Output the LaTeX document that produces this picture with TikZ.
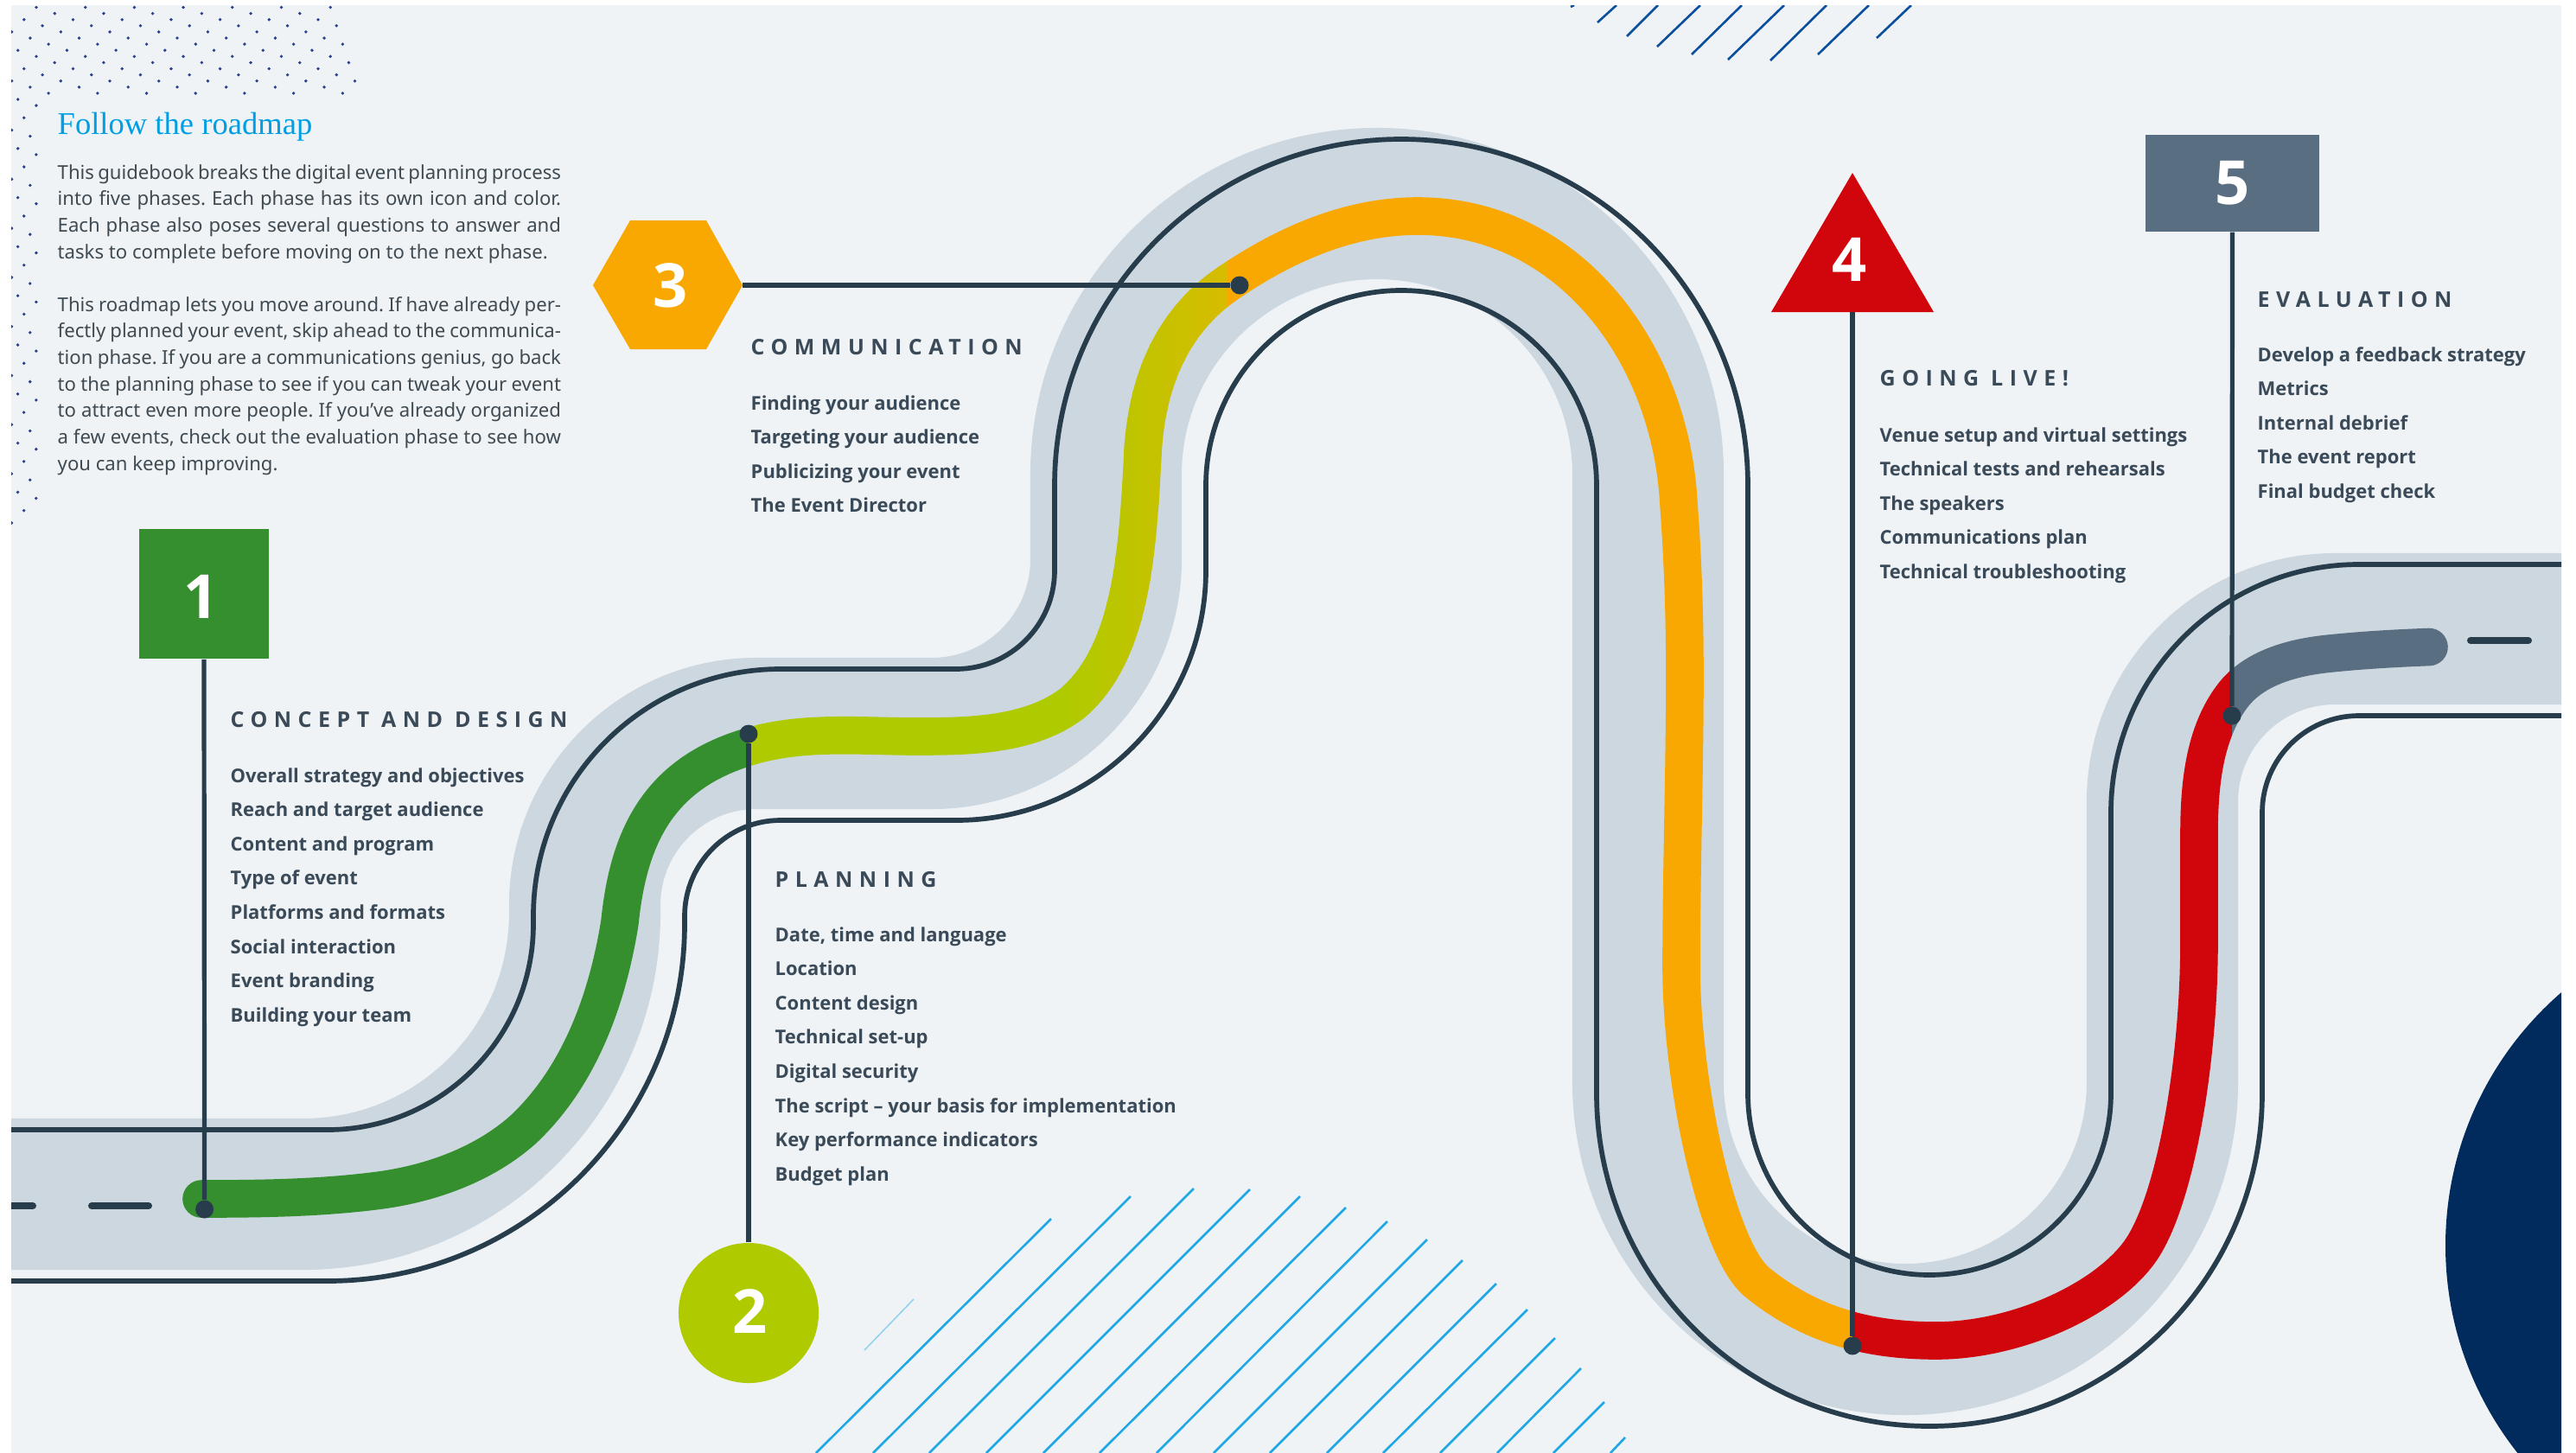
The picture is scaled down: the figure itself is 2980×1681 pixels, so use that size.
\documentclass[tikz,border=0pt]{standalone}
\usepackage{fontspec}
\setmainfont{Noto Sans}
\newfontfamily\boldfam{Open Sans}
\newfontfamily\headfont{Open Sans}[LetterSpace=30]
\newfontfamily\titlefont{Liberation Serif}
\definecolor{pagebg}{HTML}{EFF3F6}
\definecolor{roadband}{HTML}{CDD7E0}
\definecolor{ink}{HTML}{273D4C}
\definecolor{txt}{HTML}{3A4A58}
\definecolor{bodytxt}{HTML}{3F4A52}
\definecolor{cgreen}{HTML}{358F2E}
\definecolor{clime}{HTML}{B0CA00}
\definecolor{cgold}{HTML}{D8BC00}
\definecolor{corange}{HTML}{F8A800}
\definecolor{cred}{HTML}{D0060C}
\definecolor{cslate}{HTML}{5A6E81}
\definecolor{cnavy}{HTML}{002B5C}
\definecolor{hatchA}{HTML}{1EA7E4}
\definecolor{hatchB}{HTML}{0A4F9E}
\definecolor{dotc}{HTML}{2A3F8F}
\definecolor{titleblue}{HTML}{009FE3}
\newcommand\RouteDraw[1]{\draw[routeline,#1] (233,1387)
 .. controls (302,1387) and (372,1386) .. (440,1377)
 .. controls (499,1369) and (560,1347) .. (605,1307)
 .. controls (668,1248) and (702,1161) .. (717,1067)
 .. controls (727,968) and (762,895) .. (866,864)
 .. controls (928,845) and (995,852) .. (1060,852)
 .. controls (1121,852) and (1191,851) .. (1240,814)
 .. controls (1310,755) and (1316,635) .. (1322,525)
 .. controls (1326,445) and (1354,373) .. (1420,328)
 .. controls (1486,283) and (1560,250) .. (1640,250)
 .. controls (1815,250) and (1933,408) .. (1942,583)
 .. controls (1947,650) and (1949,715) .. (1949,782)
 .. controls (1949,890) and (1945,1010) .. (1945,1118)
 .. controls (1945,1250) and (1985,1440) .. (2031,1482)
 .. controls (2095,1535) and (2165,1551) .. (2240,1551)
 .. controls (2330,1551) and (2432,1506) .. (2474,1450)
 .. controls (2516,1394) and (2544,1230) .. (2544,1090)
 -- (2544,966)
 .. controls (2544,911) and (2549,850) .. (2582,806)
 .. controls (2607,772) and (2654,760) .. (2696,756)
 .. controls (2735,752) and (2772,750) .. (2810,748.5);}
\newcommand\RouteBand[3]{\begin{scope}\clip (#1,0) rectangle (#2,1681);\RouteDraw{#3}\end{scope}}
\newcommand\JLine[1]{\hbox to 5.82cm{\frenchspacing\spaceskip=.26em plus 1fil minus .2em\relax #1}}
\tikzset{
  routeline/.style={line width=.436cm,line cap=round},
  outline/.style={draw=ink,line width=.057cm},
  pointer/.style={draw=ink,line width=.052cm},
  dotnode/.style={circle,fill=ink,inner sep=0pt,minimum size=.21cm},
  signnum/.style={text=white,font=\boldfam\fontsize{20pt}{20pt}\selectfont\bfseries,inner sep=0pt},
  heading/.style={text=txt,anchor=base west,inner sep=0pt,font=\headfont\fontsize{7.1pt}{9pt}\selectfont\bfseries},
  item/.style={text=txt,anchor=base west,inner sep=0pt,font=\boldfam\fontsize{6.25pt}{9pt}\selectfont\bfseries},
  bodyline/.style={text=bodytxt,anchor=base west,inner sep=0pt,font=\fontsize{6.3pt}{9pt}\selectfont},
  dashmark/.style={draw=ink,line width=.08cm,line cap=round},
  hatchlow/.style={draw=hatchA,line width=.026cm},
  hatchtop/.style={draw=hatchB,line width=.026cm},
}
\begin{document}
\begin{tikzpicture}[x=.01cm,y=.01cm,yscale=-1]
\useasboundingbox (0,0) rectangle (2980,1681);
\fill[white] (0,0) rectangle (2980,1681);
\begin{scope}
\clip (13,6) rectangle (2963,1681);
\fill[pagebg] (13,6) rectangle (2963,1681);
% dot pattern
\foreach \i in {0,...,84}{
  \pgfmathsetmacro\rowy{8.5+7.1*\i}
  \pgfmathsetmacro\rowx{mod(42+21.26*\i,56.7)}
  \pgfmathsetmacro\lim{\i<=14 ? 398+1.1*\i : 44}
  \foreach \k in {0,...,7}{
    \pgfmathsetmacro\dx{\rowx+56.7*\k}
    \pgfmathtruncatemacro\ok{\dx<\lim ? 1 : 0}
    \ifnum\ok=1 \fill[dotc] (\dx,\rowy) circle (1.9);\fi
  }
}
% top hatch
\foreach \ax/\ay/\bx/\by in {1817/8/1821/6,1848/26/1870/6,1882/42/1918/6,1917/54/1967/6,1957/63/2015/6,1999/69/2064/6,2048/70/2113/6,2103/63/2162/6,2171/44/2211/6}
  \draw[hatchtop] (\ax,\ay) -- (\bx,\by);
% bottom hatch
\foreach \bx/\tx/\ty in {944/1216/1410,1010/1308/1384,1075/1381/1375,1141/1446/1376,1207/1504/1384,1272/1557/1397,1338/1605/1413,1404/1651/1434,1469/1692/1458,1535/1731/1485,1600/1767/1515,1666/1799/1548,1732/1829/1583,1797/1856/1622,1863/1880/1663}
  \draw[hatchlow] (\bx,1681) -- (\tx,\ty);
\draw[hatchlow,opacity=.45,line width=.015cm] (1000,1562) -- (1057,1503);
% navy circle
\fill[cnavy] (3216,1441) circle (387);
% road band
\begin{scope}[shift={(-28,-13)}]
\draw[roadband,line width=1.75cm] (-20,1394.5) -- (379,1394.5) arc (90:0:325.5) -- (704.5,1060) arc (180:270:198.5) -- (1106,861.5) arc (90:0:201.5) -- (1307.5,562) arc (180:360:313.5) -- (1934.5,1265) arc (180:0:297.5) -- (2529.5,940) arc (180:270:199.5) -- (3050,740.5);
\end{scope}
% outlines
\draw[outline] (-20,1307) -- (379,1307) arc (90:0:238) -- (617,1060) arc (180:270:286) -- (1106,774) arc (90:0:114) -- (1220,562) arc (180:360:401) -- (2022,1265) arc (180:0:210) -- (2442,940) arc (180:270:287) -- (3050,653);
\draw[outline] (-20,1482) -- (379,1482) arc (90:0:413) -- (792,1060) arc (180:270:111) -- (1106,949) arc (90:0:289) -- (1395,562) arc (180:360:226) -- (1847,1265) arc (180:0:385) -- (2617,940) arc (180:270:112) -- (3050,828);
% dashes
\draw[dashmark] (5,1395) -- (38,1395);
\draw[dashmark] (106,1395) -- (172,1395);
\draw[dashmark] (2858,741) -- (2925,741);
% route
\RouteBand{0}{866}{cgreen}
\RouteBand{866}{1231}{clime}
\foreach \xs in {1230,1240,...,1410}{
  \pgfmathtruncatemacro\pc{(\xs-1230)/190*100}
  \pgfmathsetmacro\xe{\xs+11}
  \RouteBand{\xs}{\xe}{cgold!\pc!clime}
}
\RouteBand{1420}{2143}{corange}
\RouteBand{2143}{2582}{cred}
\RouteBand{2582}{3000}{cslate}
\end{scope}
% signs
\node[fill=cgreen,minimum size=1.5cm,inner sep=0pt] (s1) at (236,687) {};
\node[signnum] (n1) at (233,690) {1};
\node[circle,fill=clime,minimum size=1.62cm,inner sep=0pt] (s2) at (866,1519) {};
\node[signnum] (n2) at (868,1517) {2};
\fill[corange] (686,330) -- (729,255) -- (817,255) -- (859,330) -- (817,404) -- (729,404) -- cycle;
\coordinate (s3) at (859,330);
\node[signnum] (n3) at (776,330) {3};
\fill[cred] (2143,200) -- (2237,361) -- (2049,361) -- cycle;
\coordinate (s4) at (2143,361);
\node[signnum] (n4) at (2140,300) {4};
\node[fill=cslate,minimum width=2.01cm,minimum height=1.12cm,inner sep=0pt] (s5) at (2582.5,212) {};
\node[signnum] (n5) at (s5.center) {5};
% pointer dots and lines
\node[dotnode] (d1) at (236.6,1399) {};
\node[dotnode] (d2) at (866,849) {};
\node[dotnode] (d3) at (1434,330) {};
\node[dotnode] (d4) at (2143,1557) {};
\node[dotnode] (d5) at (2582,828) {};
\draw[pointer] (s1.south) -- (d1);
\draw[pointer] (s2.north) -- (d2);
\draw[pointer] (s3) -- (d3);
\draw[pointer] (s4) -- (d4);
\draw[pointer] (s5.south) -- (d5);
% title and body
\node[anchor=base west,inner sep=0pt,text=titleblue,font=\titlefont\fontsize{10.4pt}{12pt}\selectfont] (title) at (66,155) {Follow the roadmap};
\foreach \t [count=\i] in {This guidebook breaks the digital event planning process,into five phases. Each phase has its own icon and color.,Each phase also poses several questions to answer and}
  \node[bodyline] (pa\i) at (66,{207+30.65*(\i-1)}) {\JLine{\t}};
\node[bodyline] (pa4) at (66,299) {tasks to complete before moving on to the next phase.};
\foreach \t [count=\i] in {This roadmap lets you move around. If have already per-,fectly planned your event{,} skip ahead to the communica-,tion phase. If you are a communications genius{,} go back,to the planning phase to see if you can tweak your event,to attract even more people. If you’ve already organized,a few events{,} check out the evaluation phase to see how}
  \node[bodyline] (pb\i) at (66,{360+30.7*(\i-1)}) {\JLine{\t}};
\node[bodyline] (pb7) at (66,544) {you can keep improving.};
% lists
\node[heading] (h1) at (266,841) {CONCEPT AND DESIGN};
\foreach \t [count=\i] in {Overall strategy and objectives,Reach and target audience,Content and program,Type of event,Platforms and formats,Social interaction,Event branding,Building your team}
  \node[item] (ia\i) at (266,{905+39.6*(\i-1)}) {\t};
\node[heading] (h2) at (896,1026) {PLANNING};
\foreach \t [count=\i] in {{Date, time and language},Location,Content design,Technical set-up,Digital security,The script – your basis for implementation,Key performance indicators,Budget plan}
  \node[item] (ib\i) at (896,{1089+39.6*(\i-1)}) {\t};
\node[heading] (h3) at (868,410) {COMMUNICATION};
\foreach \t [count=\i] in {Finding your audience,Targeting your audience,Publicizing your event,The Event Director}
  \node[item] (ic\i) at (868,{474+39.6*(\i-1)}) {\t};
\node[heading] (h4) at (2174,446) {GOING LIVE!};
\foreach \t [count=\i] in {Venue setup and virtual settings,Technical tests and rehearsals,The speakers,Communications plan,Technical troubleshooting}
  \node[item] (id\i) at (2174,{511+39.6*(\i-1)}) {\t};
\node[heading] (h5) at (2611,355) {EVALUATION};
\foreach \t [count=\i] in {Develop a feedback strategy,Metrics,Internal debrief,The event report,Final budget check}
  \node[item] (ie\i) at (2611,{418+39.6*(\i-1)}) {\t};
\end{tikzpicture}
\end{document}
